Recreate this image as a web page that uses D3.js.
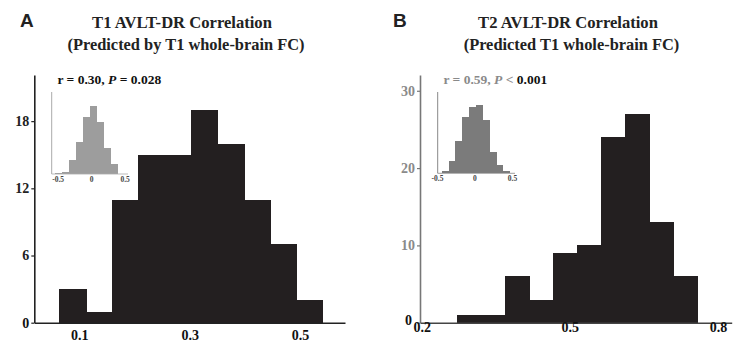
<!DOCTYPE html>
<html><head><meta charset="utf-8">
<script src="https://cdn.jsdelivr.net/npm/d3@7"></script>
<style>body{margin:0;background:#fff}svg{display:block}</style>
</head><body>
<svg id="c" width="750" height="355"></svg>
<script>
// Panel A main histogram
const binEdgesA = [0.064, 0.112, 0.159, 0.207, 0.255, 0.303, 0.350, 0.398, 0.446, 0.493, 0.541];
const countsA = [3, 1, 11, 15, 15, 19, 16, 11, 7, 2];
const yTicksA = [0, 6, 12, 18];
const xTicksA = [0.1, 0.3, 0.5];
// Panel A inset (null distribution)
const insetEdgesA = [-0.545, -0.4415, -0.338, -0.2345, -0.131, -0.0275, 0.076, 0.1795, 0.283, 0.3865];
const insetCountsA = [4, 7, 56, 129, 229, 273, 207, 105, 39];
// Panel B main histogram
const binEdgesB = [0.271, 0.3196, 0.3682, 0.4168, 0.4654, 0.514, 0.5626, 0.6112, 0.6598, 0.7084, 0.757];
const countsB = [1, 1, 6, 3, 9, 10, 24, 27, 13, 6];
const yTicksB = [0, 10, 20, 30];
const xTicksB = [0.2, 0.5, 0.8];
// Panel B inset (null distribution)
const insetEdgesB = [-0.53, -0.44, -0.35, -0.26, -0.17, -0.08, 0.01, 0.10, 0.19, 0.28, 0.37, 0.46, 0.55];
const insetCountsB = [3, 10, 48, 128, 224, 264, 272, 212, 84, 32, 8, 3];
const insetTicks = [-0.5, 0, 0.5];

const svg = d3.select("#c");
const serif = "'Liberation Serif','Times New Roman',serif";
const sans = "'Liberation Sans',Arial,sans-serif";
const barColor = "#231f20";
const fmt1 = v => d3.format(".1f")(v).replace("\u2212", "-");

function bins(edges, counts){ return counts.map((c,i)=>({x0:edges[i], x1:edges[i+1], c})); }

function panel(o){
  const g = svg.append("g");
  const x = d3.scaleLinear().domain(o.xDom).range(o.xRange);
  const y = d3.scaleLinear().domain(o.yDom).range([322.7, 75]);
  // bars
  g.selectAll("rect.bar").data(bins(o.edges, o.counts)).join("rect")
    .attr("x", d=>x(d.x0)).attr("width", d=>x(d.x1)-x(d.x0)+0.8)
    .attr("y", d=>y(d.c)).attr("height", d=>y(0)-y(d.c))
    .attr("fill", barColor).attr("shape-rendering","crispEdges");
  // y axis
  const ya = g.append("g").attr("transform",`translate(${o.xRange[0]},0)`)
    .call(d3.axisLeft(y).tickValues(o.yTicks).tickSize(3).tickSizeOuter(0).tickFormat(d3.format("d")));
  ya.select(".domain").attr("stroke", o.yAxisColor).attr("stroke-width", 1.6);
  ya.selectAll(".tick line").attr("stroke", o.yAxisColor).attr("stroke-width",1.2);
  ya.selectAll(".tick text").attr("font-family", serif).attr("font-weight","bold").attr("font-size",14)
    .attr("x", d=> d===0 ? o.zeroX : -5).attr("dy", d=> d===0 ? o.zeroDy : "0.32em")
    .attr("fill", d=> d===0 ? "#111" : o.yLabelColor);
  // x axis
  const xa = g.append("g").attr("transform",`translate(0,${y(0)})`)
    .call(d3.axisBottom(x).tickValues(o.xTicks).tickSize(0).tickSizeOuter(0).tickFormat(fmt1));
  xa.select(".domain").attr("stroke", o.xAxisColor).attr("stroke-width", 1.6);
  xa.selectAll(".tick text").attr("font-family", serif).attr("font-weight","bold").attr("font-size",14)
    .attr("fill","#111").attr("dy", o.xLabelDy);
  // inset
  const ix = d3.scaleLinear().domain(o.inXDom).range(o.inXRange);
  const iy = d3.scaleLinear().domain(o.inYDom).range([o.inBase, 92]);
  const ig = g.append("g");
  ig.selectAll("rect").data(bins(o.inEdges, o.inCounts)).join("rect")
    .attr("x", d=>ix(d.x0)).attr("width", d=>ix(d.x1)-ix(d.x0)+0.6)
    .attr("y", d=>iy(d.c)).attr("height", d=>iy(0)-iy(d.c))
    .attr("fill", o.inColor).attr("shape-rendering","crispEdges");
  ig.append("line").attr("x1", o.inXRange[0]).attr("x2", o.inXRange[0])
    .attr("y1", iy.range()[0]).attr("y2", iy.range()[1]).attr("stroke", o.inAxisColor).attr("stroke-width",1);
  ig.append("line").attr("x1", o.inXRange[0]).attr("x2", o.inXRange[1])
    .attr("y1", iy(0)).attr("y2", iy(0)).attr("stroke", o.inAxisColor).attr("stroke-width",0.8);
  ig.selectAll("text.it").data(insetTicks).join("text")
    .attr("x", d=>ix(d)).attr("y", o.inBase+8).attr("text-anchor","middle")
    .attr("font-family", serif).attr("font-weight","bold").attr("font-size",7.5).attr("fill","#444")
    .text(d=> d===0 ? "0" : fmt1(d));
  // titles
  g.append("text").attr("x", o.titleX).attr("y", 27.5).attr("text-anchor","middle")
    .attr("font-family", serif).attr("font-weight","bold").attr("font-size",16.6).attr("fill","#222")
    .text(o.title1);
  g.append("text").attr("x", o.titleX2).attr("y", 50).attr("text-anchor","middle")
    .attr("font-family", serif).attr("font-weight","bold").attr("font-size",16.4).attr("fill","#222")
    .text(o.title2);
  g.append("text").attr("x", o.letterX).attr("y", 26.5)
    .attr("font-family", sans).attr("font-weight","bold").attr("font-size",19).attr("fill","#222")
    .text(o.letter);
  return g;
}

const gA = panel({
  xDom:[0.0186,0.5814], xRange:[34.3,345], yDom:[0,22.12],
  edges:binEdgesA, counts:countsA, yTicks:yTicksA, xTicks:xTicksA,
  yAxisColor:"#222", yLabelColor:"#222", xAxisColor:"#222", xLabelDy:"1.0em",
  zeroX:-5, zeroDy:"0.32em",
  inXDom:[-0.597,0.542], inXRange:[51.7,128], inYDom:[0,328], inBase:174,
  inEdges:insetEdgesA, inCounts:insetCountsA, inColor:"#9d9d9d", inAxisColor:"#aaa",
  title1:"T1 AVLT-DR Correlation", title2:"(Predicted by T1 whole-brain FC)",
  titleX:182, titleX2:186, letter:"A", letterX:20
});
const annA = gA.append("text").attr("x",57.5).attr("y",83.5)
  .attr("font-family", serif).attr("font-weight","bold").attr("font-size",13.5).attr("fill","#111");
annA.append("tspan").text("r = 0.30, ");
annA.append("tspan").attr("font-style","italic").text("P");
annA.append("tspan").text(" = 0.028");

const gB = panel({
  xDom:[0.1966,0.8277], xRange:[420,731.7], yDom:[0,32.04],
  edges:binEdgesB, counts:countsB, yTicks:yTicksB, xTicks:xTicksB,
  yAxisColor:"#777", yLabelColor:"#8a8a8a", xAxisColor:"#444", xLabelDy:"0.45em",
  zeroX:-8, zeroDy:"0.15em",
  inXDom:[-0.497,0.533], inXRange:[437.7,515], inYDom:[0,324], inBase:173.3,
  inEdges:insetEdgesB, inCounts:insetCountsB, inColor:"#7b7b7b", inAxisColor:"#888",
  title1:"T2 AVLT-DR Correlation", title2:"(Predicted T1 whole-brain FC)",
  titleX:568, titleX2:571.5, letter:"B", letterX:393
});
const annB = gB.append("text").attr("x",443.5).attr("y",83.5)
  .attr("font-family", serif).attr("font-weight","bold").attr("font-size",13.5).attr("fill","#8a8a8a");
annB.append("tspan").text("r = 0.59, ");
annB.append("tspan").attr("font-style","italic").text("P");
annB.append("tspan").text(" < ");
annB.append("tspan").attr("fill","#111").text("0.001");
</script>
</body></html>
